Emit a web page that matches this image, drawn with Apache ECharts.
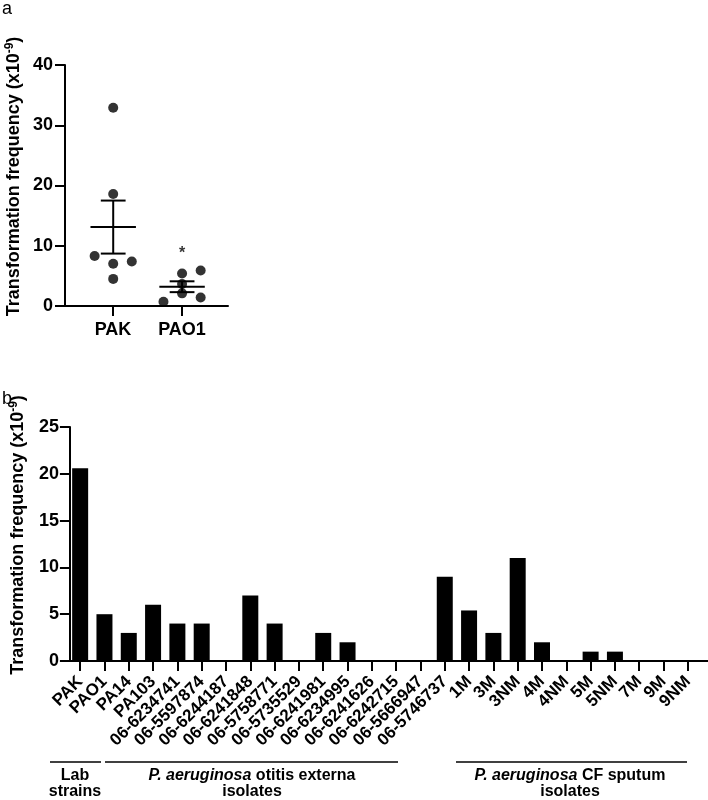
<!DOCTYPE html>
<html>
<head>
<meta charset="utf-8">
<script src="https://cdn.jsdelivr.net/npm/echarts@6/dist/echarts.min.js"></script>
<style>
  html, body { margin: 0; padding: 0; background: #fff; }
  #chart { width: 708px; height: 800px; }
</style>
</head>
<body>
<div id="chart"></div>
<script>
// ---------- Panel a data ----------
const catsA = ['PAK', 'PAO1'];
const pakX = [1, 1, 0.73, 1, 1.27, 1];
const pakY = [32.9, 18.6, 8.3, 7.0, 7.4, 4.5];
const pao1X = [1.73, 2, 2.27, 2, 2, 2.27];
const pao1Y = [0.7, 5.4, 5.9, 3.65, 2.1, 1.4];
const meansA = [13.1, 3.2];
const semA = [4.4, 0.9];
const starA = [2, 9.3];

// ---------- Panel b data ----------
const catsB = ['PAK', 'PAO1', 'PA14', 'PA103', '06-6234741', '06-5597874', '06-6244187',
  '06-6241848', '06-5758771', '06-5735529', '06-6241981', '06-6234995', '06-6241626',
  '06-6242715', '06-5666947', '06-5746737', '1M', '3M', '3NM', '4M', '4NM', '5M', '5NM',
  '7M', '9M', '9NM'];
const valsB = [20.6, 5, 3, 6, 4, 4, 0, 7, 4, 0, 3, 2, 0, 0, 0, 9, 5.4, 3, 11, 2, 0, 1, 1, 0, 0, 0];

const FONT = 'Liberation Sans, Arial, sans-serif';
const mkLine = () => ({ show: true, onZero: false, lineStyle: { color: '#000', width: 2 } });
const mkTick = () => ({ show: true, inside: false, length: 10, lineStyle: { color: '#000', width: 2 } });
const mkCatTick = () => ({ show: true, alignWithLabel: true, length: 10, lineStyle: { color: '#000', width: 2 } });
const mkLabel = (extra) => Object.assign({
  show: true, fontSize: 18, fontWeight: 'bold', color: '#000', fontFamily: FONT
}, extra);
const yName = 'Transformation frequency (x10{sup|-9})';
const nameStyle = (pad) => ({
  fontSize: 18, fontWeight: 'bold', color: '#000', fontFamily: FONT, lineHeight: 20,
  padding: [0, 0, 0, pad],
  rich: { sup: { fontSize: 12, fontWeight: 'bold', color: '#000', fontFamily: FONT, lineHeight: 12, verticalAlign: 'top' } }
});
const hiddenY = (grid, max) => ({ gridIndex: grid, type: 'value', min: 0, max: max,
  axisLine: { show: false }, axisTick: { show: false }, axisLabel: { show: false }, splitLine: { show: false } });

const chart = echarts.init(document.getElementById('chart'), null, { renderer: 'canvas' });

const option = {
  animation: false,
  backgroundColor: '#fff',
  textStyle: { fontFamily: FONT },
  grid: [
    { left: 65, top: 65, width: 163, height: 241 },     // 0: panel a (value x, full axis line)
    { left: 78.5, top: 65, width: 138, height: 241 },   // 1: panel a categories
    { left: 63, top: 427, width: 645, height: 234 },    // 2: panel b full axis line
    { left: 68, top: 427, width: 632, height: 234 }     // 3: panel b categories + bars
  ],
  xAxis: [
    {
      gridIndex: 0, type: 'value', min: 0.3, max: 2.667,
      axisLine: mkLine(), axisTick: { show: false }, axisLabel: { show: false },
      splitLine: { show: false }
    },
    {
      gridIndex: 1, type: 'category', data: catsA, boundaryGap: true,
      axisLine: mkLine(), axisTick: mkCatTick(),
      splitLine: { show: false },
      axisLabel: mkLabel({ interval: 0, margin: 15 })
    },
    {
      gridIndex: 2, type: 'value', min: 0, max: 1,
      axisLine: mkLine(), axisTick: { show: false }, axisLabel: { show: false },
      splitLine: { show: false }
    },
    {
      gridIndex: 3, type: 'category', data: catsB, boundaryGap: true,
      axisLine: mkLine(), axisTick: mkCatTick(),
      splitLine: { show: false },
      axisLabel: mkLabel({ interval: 0, margin: 18, rotate: 45, fontSize: 17 })
    }
  ],
  yAxis: [
    {
      gridIndex: 0, type: 'value', min: 0, max: 40, interval: 10,
      axisLine: mkLine(), axisTick: mkTick(), splitLine: { show: false },
      axisLabel: mkLabel({ margin: 12 }),
      name: yName, nameLocation: 'middle', nameGap: 41, nameTextStyle: nameStyle(18)
    },
    hiddenY(1, 40),
    {
      gridIndex: 2, type: 'value', min: 0, max: 25, interval: 5,
      axisLine: mkLine(), axisTick: mkTick(), splitLine: { show: false },
      axisLabel: mkLabel({ margin: 11 }),
      name: yName, nameLocation: 'middle', nameGap: 39, nameTextStyle: nameStyle(18)
    },
    hiddenY(3, 25)
  ],
  series: [
    {
      type: 'scatter', xAxisIndex: 0, yAxisIndex: 0, symbol: 'circle', symbolSize: 10,
      itemStyle: { color: '#000' },
      data: pakX.map((x, i) => [x, pakY[i]])
    },
    {
      type: 'scatter', xAxisIndex: 0, yAxisIndex: 0, symbol: 'circle', symbolSize: 10,
      itemStyle: { color: '#000' },
      data: pao1X.map((x, i) => [x, pao1Y[i]])
    },
    {
      type: 'custom', xAxisIndex: 0, yAxisIndex: 0,
      data: meansA.map((m, i) => [i + 1, m, semA[i]]),
      renderItem: (params, api) => {
        const x = api.value(0), m = api.value(1), s = api.value(2);
        const seg = (x1, y1, x2, y2) => {
          const a = api.coord([x1, y1]), b = api.coord([x2, y2]);
          return { type: 'line', shape: { x1: a[0], y1: a[1], x2: b[0], y2: b[1] },
                   style: { stroke: '#000', lineWidth: 2 } };
        };
        return { type: 'group', children: [
          seg(x - 0.33, m, x + 0.33, m),
          seg(x, m - s, x, m + s),
          seg(x - 0.18, m + s, x + 0.18, m + s),
          seg(x - 0.18, m - s, x + 0.18, m - s)
        ] };
      }
    },
    {
      type: 'scatter', xAxisIndex: 0, yAxisIndex: 0, symbolSize: 0,
      data: [starA],
      label: { show: true, position: 'inside', formatter: '*', offset: [0, 4],
               fontSize: 16, fontWeight: 'bold', color: '#000', fontFamily: FONT }
    },
    {
      type: 'bar', xAxisIndex: 3, yAxisIndex: 3, barWidth: 16,
      itemStyle: { color: '#000' },
      data: valsB
    }
  ],
  graphic: [
    { type: 'text', left: 2, top: 0, style: { text: 'a', fontSize: 18, fontFamily: FONT, fill: '#000' } },
    { type: 'text', left: 2, top: 390, style: { text: 'b', fontSize: 18, fontFamily: FONT, fill: '#000' } },
    { type: 'line', shape: { x1: 50, y1: 762, x2: 101, y2: 762 }, style: { stroke: '#000', lineWidth: 1.3 } },
    { type: 'line', shape: { x1: 105, y1: 762, x2: 398, y2: 762 }, style: { stroke: '#000', lineWidth: 1.3 } },
    { type: 'line', shape: { x1: 456, y1: 762, x2: 687, y2: 762 }, style: { stroke: '#000', lineWidth: 1.3 } },
    { type: 'text', x: 75, y: 768, style: { text: 'Lab\nstrains', align: 'center', verticalAlign: 'top',
      fontSize: 16, fontWeight: 'bold', fontFamily: FONT, lineHeight: 16, fill: '#000' } },
    { type: 'text', x: 252, y: 768, style: {
      text: '{i|P. aeruginosa} otitis externa\nisolates', align: 'center', verticalAlign: 'top',
      fontSize: 16, fontWeight: 'bold', fontFamily: FONT, lineHeight: 16, fill: '#000',
      rich: { i: { fontStyle: 'italic', fontSize: 16, fontWeight: 'bold', fontFamily: FONT, lineHeight: 16, fill: '#000' } } } },
    { type: 'text', x: 570, y: 768, style: {
      text: '{i|P. aeruginosa} CF sputum\nisolates', align: 'center', verticalAlign: 'top',
      fontSize: 16, fontWeight: 'bold', fontFamily: FONT, lineHeight: 16, fill: '#000',
      rich: { i: { fontStyle: 'italic', fontSize: 16, fontWeight: 'bold', fontFamily: FONT, lineHeight: 16, fill: '#000' } } } }
  ]
};
chart.setOption(option);
</script>
</body>
</html>
